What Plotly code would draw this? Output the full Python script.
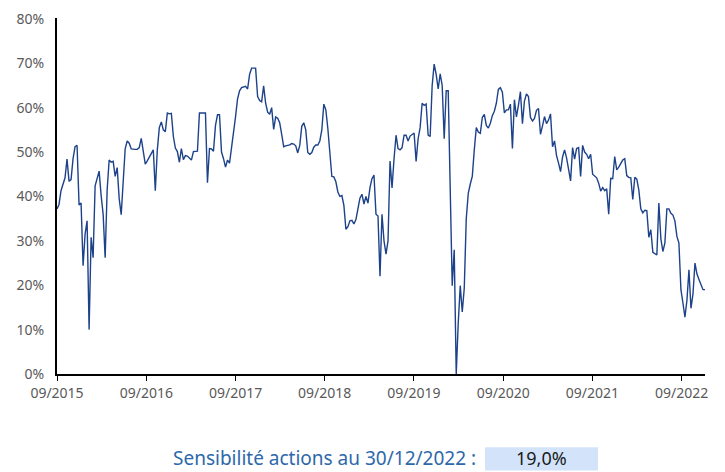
import pandas as pd
import plotly.graph_objects as go

# Weekly equity sensitivity (%), 09/2015 -> 30/12/2022
start_date = "2015-09-25"
end_date = "2022-12-30"
values = [
    37.2, 38.2, 41.3, 43.1, 44.2, 48.4, 43.4, 43.8, 48.5, 51.2,
    51.5, 38.1, 38.5, 24.4, 31.5, 34.5, 10.0, 30.8, 26.2, 42.4,
    44.3, 45.7, 40.2, 36.0, 26.2, 41.5, 48.2, 47.7, 47.9, 44.5,
    46.5, 39.5, 35.9, 43.8, 50.8, 52.5, 52.0, 50.7, 50.6, 50.6,
    50.6, 51.0, 53.1, 50.6, 47.3, 48.0, 48.9,
    49.5, 50.5, 41.3, 50.5, 55.5, 56.8, 55.0, 54.6, 58.8, 58.6,
    58.7, 53.5, 50.9, 50.1, 47.7, 50.8, 48.3, 49.2, 49.1, 48.6,
    48.2, 50.1, 50.2, 50.2, 58.8, 58.8, 58.7, 58.8, 43.1, 50.8,
    50.7, 50.2, 56.0, 58.4, 58.4, 50.0, 48.5, 46.6, 48.2, 47.5,
    51.0, 54.0, 58.0, 62.0, 63.8,
    64.5, 64.6, 64.8, 64.2, 67.5, 68.9, 68.9, 68.9, 62.5, 61.6,
    61.3, 64.9, 61.0, 59.0, 58.5, 60.0, 55.1, 57.9, 57.6, 56.6,
    54.0, 51.2, 51.4, 51.5, 51.6, 51.9, 51.8, 51.4, 49.8, 51.5,
    55.8, 56.6, 55.0, 49.9, 49.5, 49.9, 51.1, 51.6, 51.6, 52.5,
    55.0, 60.8, 59.5, 55.3, 50.5,
    44.5, 44.4, 43.3, 41.0, 40.0, 40.2, 38.0, 32.6, 33.2, 34.5,
    34.6, 33.8, 34.8, 37.2, 39.6, 40.5, 38.3, 40.0, 38.5, 42.0,
    44.0, 44.8, 36.0, 35.6, 22.0, 36.0, 30.0, 27.0, 30.0, 48.0,
    41.9, 48.5, 53.8, 50.8, 50.5, 51.0, 53.8, 53.8, 52.5, 53.6,
    54.0, 54.3, 47.9, 53.0, 55.5,
    61.0, 60.5, 60.8, 53.8, 53.5, 65.0, 69.8, 67.5, 64.2, 67.6,
    65.0, 53.0, 63.8, 63.8, 45.0, 19.9, 28.0, 0.0, 11.5, 19.9,
    14.0, 19.3, 35.0, 40.7, 42.8, 44.5, 50.5, 55.5, 54.5, 54.2,
    57.8, 58.5, 56.0, 55.4, 56.5, 58.2, 59.2, 61.0, 64.1, 64.5,
    63.5, 58.8, 59.5, 59.5, 60.8,
    50.8, 61.8, 57.9, 60.5, 63.6, 56.4, 61.5, 63.1, 62.5, 57.8,
    57.0, 57.6, 59.4, 59.8, 54.0, 55.9, 58.0, 56.4, 57.2, 58.6,
    51.2, 52.5, 49.2, 47.5, 45.6, 48.9, 50.5, 48.7, 45.6, 43.5,
    51.0, 48.4, 50.8, 51.0, 44.5, 51.5, 50.0, 49.5, 48.5, 49.5,
    45.0, 44.5, 44.2, 43.0, 41.2,
    42.0, 41.3, 41.7, 36.0, 44.1, 44.0, 49.0, 46.0, 46.6, 47.4,
    48.2, 48.5, 44.7, 44.3, 44.2, 39.3, 44.3, 43.9, 41.5, 37.2,
    36.3, 36.9, 36.8, 30.8, 32.5, 27.4, 27.0, 26.8, 38.5, 30.5,
    27.6, 29.5, 37.2, 37.2, 36.2, 35.8, 34.5, 31.0, 29.5, 19.0,
    16.0, 12.8, 16.6, 23.5, 14.8, 18.0, 25.0, 22.5, 21.3, 20.0,
    19.0, 19.0,
]
dates = pd.date_range(start_date, end_date, periods=len(values))

tick_dates = ["2015-09-25", "2016-09-25", "2017-09-25", "2018-09-25",
              "2019-09-25", "2020-09-25", "2021-09-25", "2022-09-25"]
tick_labels = ["09/2015", "09/2016", "09/2017", "09/2018",
               "09/2019", "09/2020", "09/2021", "09/2022"]
y_ticks = [0, 10, 20, 30, 40, 50, 60, 70, 80]
y_tick_labels = ["0%", "10%", "20%", "30%", "40%", "50%", "60%", "70%", "80%"]

caption = "Sensibilité actions au 30/12/2022 :"
last_value_text = f"{values[-1]:.1f}".replace(".", ",") + "%"

FONT = "Noto Sans"
GREY = "#595959"

fig = go.Figure()
fig.add_trace(go.Scatter(
    x=dates, y=values, mode="lines",
    line=dict(color="#1D428A", width=1.4),
    hoverinfo="skip", showlegend=False,
))

# page body has an 8px default margin: figure is sized to fit the 725x472 window
fig.update_layout(
    width=717, height=464,
    margin=dict(l=49, r=20, t=10, b=98),
    paper_bgcolor="white", plot_bgcolor="white",
    font=dict(family=FONT, size=14, color=GREY),
    xaxis=dict(
        type="date",
        range=[start_date, end_date],
        tickvals=tick_dates, ticktext=tick_labels,
        ticks="outside", ticklen=5, tickwidth=1, tickcolor="black",
        showline=True, linecolor="black", linewidth=2,
        showgrid=False, zeroline=False, automargin=False,
        tickfont=dict(family=FONT, size=14, color=GREY),
    ),
    yaxis=dict(
        range=[0, 80.2],
        tickvals=y_ticks, ticktext=y_tick_labels,
        ticks="", showline=True, linecolor="black", linewidth=2,
        showgrid=False, zeroline=False, automargin=False,
        tickfont=dict(family=FONT, size=14, color=GREY),
        ticklabelstandoff=8, ticklabeloverflow="allow",
    ),
)

fig.add_annotation(
    xref="paper", yref="paper", x=0.6497, y=-0.237,
    xanchor="right", yanchor="middle", showarrow=False,
    text=caption, font=dict(family=FONT, size=19, color="#2D68AA"),
)
fig.add_shape(
    type="rect", xref="paper", yref="paper",
    x0=0.6605, x1=0.8349, y0=-0.271, y1=-0.206,
    fillcolor="#D3E4FA", line=dict(width=0), layer="below",
)
fig.add_annotation(
    xref="paper", yref="paper", x=0.747, y=-0.237,
    xanchor="center", yanchor="middle", showarrow=False,
    text=last_value_text, font=dict(family=FONT, size=18, color="#1A1A1A"),
)

fig.write_html("out.html")
